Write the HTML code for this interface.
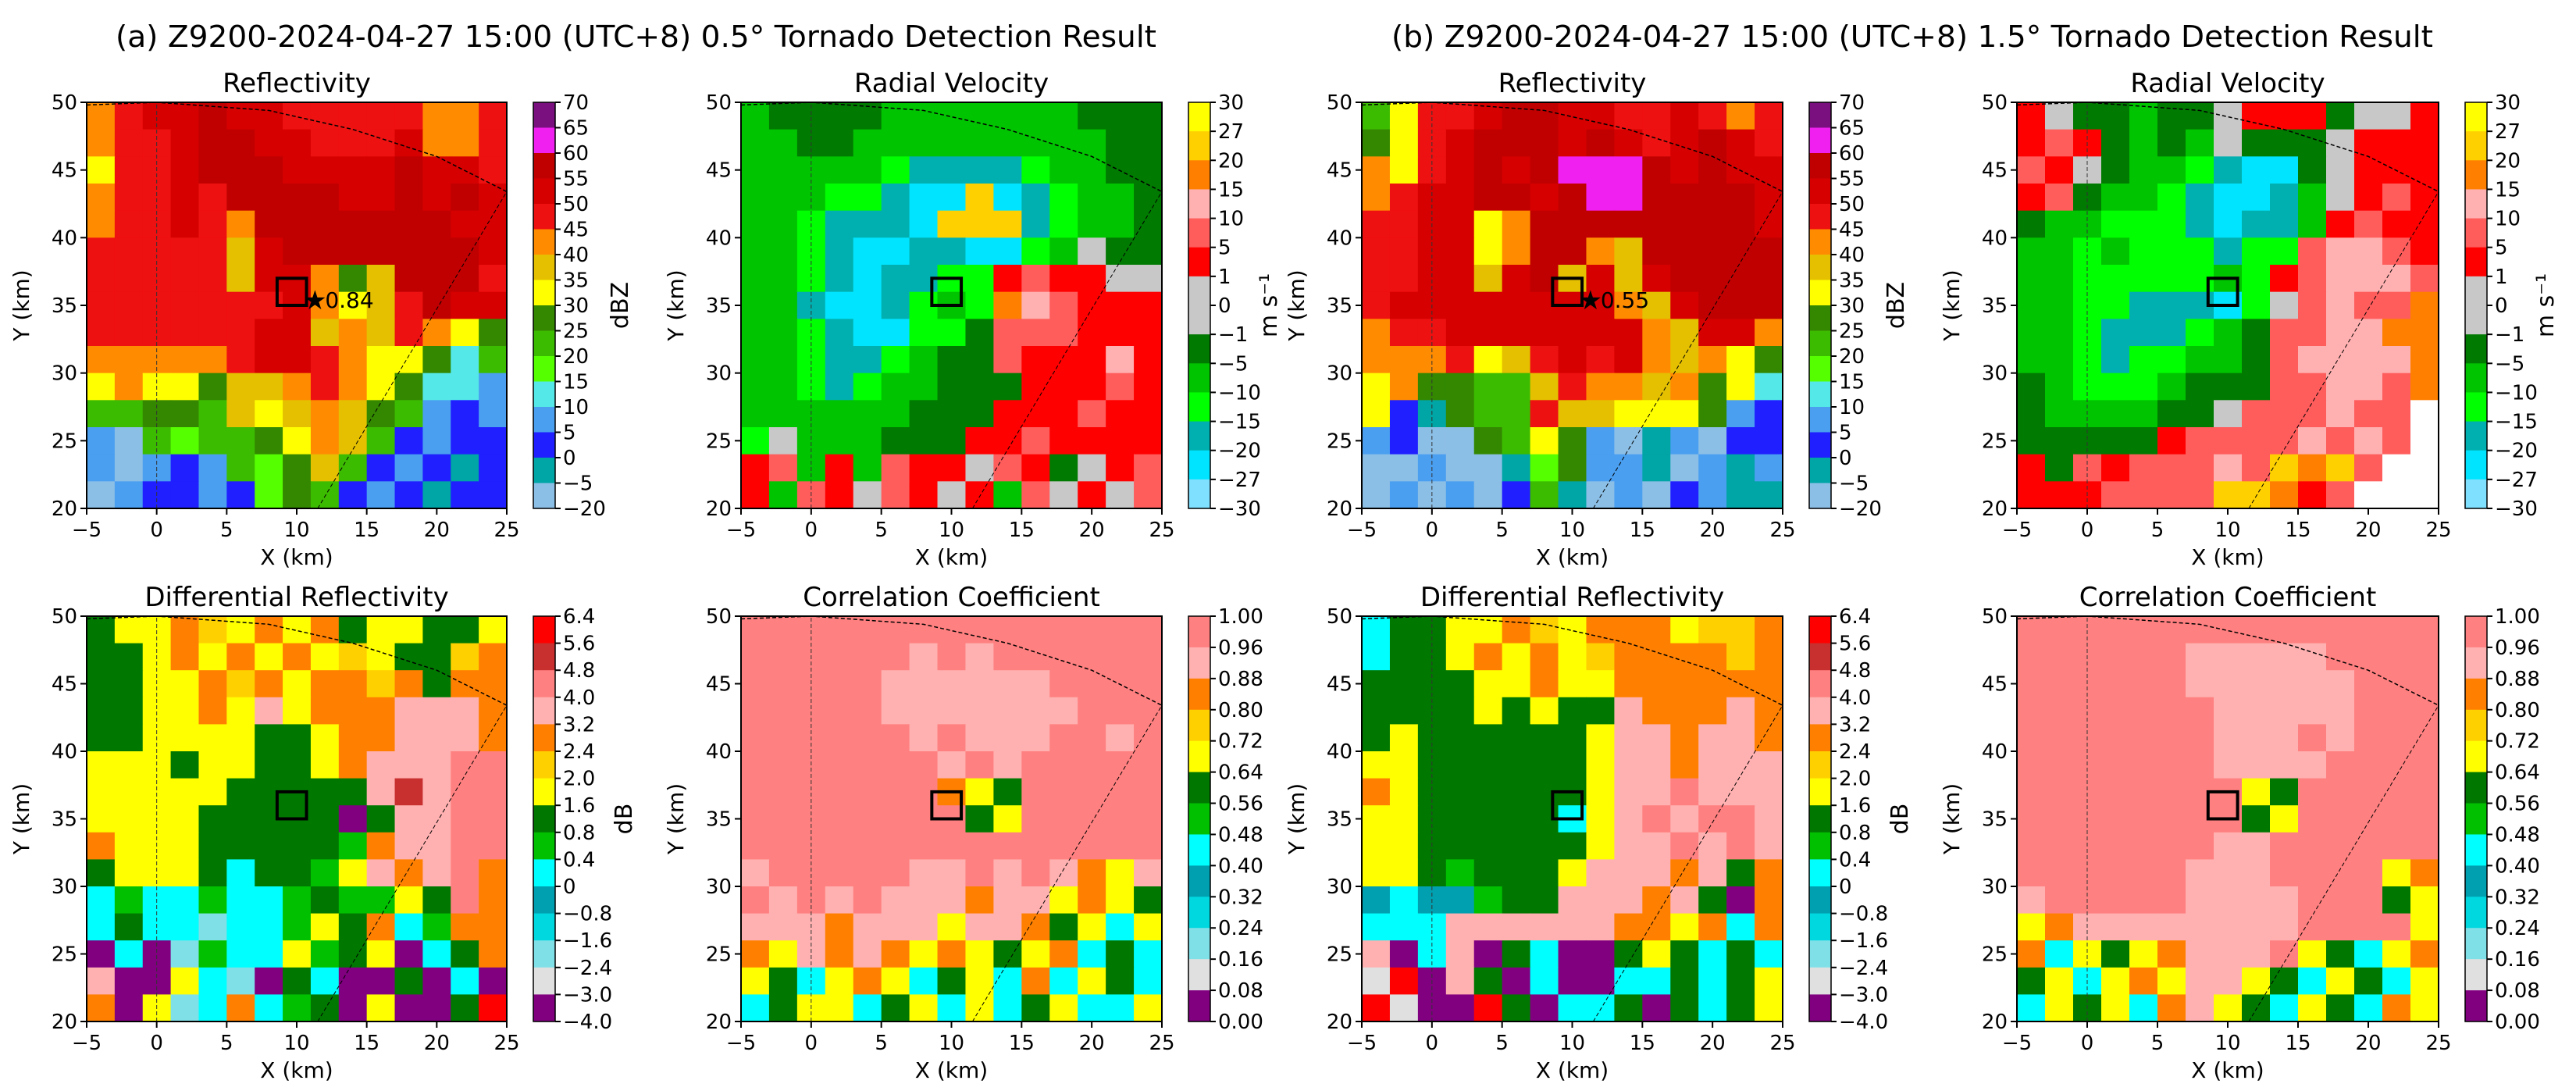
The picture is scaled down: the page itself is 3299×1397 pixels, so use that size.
<!DOCTYPE html>
<html><head><meta charset="utf-8">
<style>
html,body{margin:0;padding:0;background:#fff;}
svg{display:block;font-family:"DejaVu Sans","Liberation Sans",sans-serif;}
</style></head>
<body>
<svg id="fig" width="3299" height="1397" viewBox="0 0 3299 1397" xmlns="http://www.w3.org/2000/svg">
<rect width="3299" height="1397" fill="#fff"/>
<text x="148" y="60" font-size="38" textLength="1333" lengthAdjust="spacingAndGlyphs">(a) Z9200-2024-04-27 15:00 (UTC+8) 0.5° Tornado Detection Result</text>
<text x="1782" y="60" font-size="38" textLength="1334" lengthAdjust="spacingAndGlyphs">(b) Z9200-2024-04-27 15:00 (UTC+8) 1.5° Tornado Detection Result</text>
</svg>
<script>
// ---- axis domain ----
const xTicks = [-5,0,5,10,15,20,25];
const yTicks = [20,25,30,35,40,45,50];
// ---- colorbar tick labels ----
const zLevels = ["70","65","60","55","50","45","40","35","30","25","20","15","10","5","0","−5","−20"];
const vLevels = ["30","27","20","15","10","5","1","0","−1","−5","−10","−15","−20","−27","−30"];
const zdrLevels = ["6.4","5.6","4.8","4.0","3.2","2.4","2.0","1.6","0.8","0.4","0","−0.8","−1.6","−2.4","−3.0","−4.0"];
const ccLevels = ["1.00","0.96","0.88","0.80","0.72","0.64","0.56","0.48","0.40","0.32","0.24","0.16","0.08","0.00"];
// ---- detection values ----
const detectScores = ["0.84","0.55"];
const detectBox = [8.6,10.7,35,37];
const detectStar = [11.3,35.4];

// ---- gridded fields (rows from y=50 down to 20, columns x=-5..25, 2 km cells) ----
const zA = ["klmmnmmlllllkkl","kllmnnmmlllmkkl","illmnnnmmmmnmml","kllmlnnnnmmnmnm","kllmlknnnnnnnmm","llllljmnnnnnnnm","llllljmmkhjnnnl","lllllllmkijlnmm","llllllmmjkjlkih","kkkkklmmlkiiheg","ikiihjjklkiheed","gghhgjijkjhgdcd","dagfgghikjgcdcc","dadcdgfhjgcdcbc","adccdcfhgcdcbcc"];
const vA = ["EFFFFEEEEEEEFFF","EEFFEEEEEEEEEFF","EEEEEDCCCCDEEFF","EEEDDCBBLBCDEEF","EEDCCCBLLLCDEEF","EEDCBBCCBBDEGFF","EEDCBCCDDHIHHGG","EECBBCDEDKJIHHH","EEDCBBDDFIIIHHH","EEDCCDEFFIHHHJH","EEDCDEEFFFHHHIH","EEEEEEFFFHHHIHH","DGEEEFFFHHIHHHH","HIEHEIHHGIHFGHI","HEIHGIHGHEIGHGI"];
const zdrA = ["vyyozyoyovyyvvy","vvyoyoyoyzyvvzo","vvyyozoyoozovoo","vvyyoykyoookkko","vvyyyyvvyookkko","yyyvyyvvyokkkmm","yyyyyvvvvvkbkmm","yyyyvvvvvpvkkmm","oyyyvvvvvuokkmm","vyyyvtvvuykokmo","tuttuttuvuuyvmo","tvttqttuyvotuoo","ptpquttyuvyptvo","kppytqpvtppvptp","opyqtotuvpyppvR"];
const ccA = ["mmmmmmmmmmmmmmm","mmmmmmkmkmmmmmm","mmmmmkkkkkkmmmm","mmmmmkkkkkkkmmm","mmmmmmkmkkkmmkm","mmmmmmmkmkmmmmm","mmmmmmmoyvmmmmm","mmmmmmmmvymmmmm","mmmmmmmmmmmmmmm","kmmmmmkkmkmkoyk","mkmkmkkkokkyoyv","kkkokkkykkovyty","oykokoyoyvyotvt","yvtyoytvytotyvt","tvyytvytytvytty"];
const zB = ["gillmnnmmllmlkl","hilmnnnmnmlmnml","kilmnmnooonmnmm","klmmnnmnoonnnnm","llmmiknnnnnnnnm","llmmiknnkjnnnnn","llmmjmnjmjmnnnn","lmmmmmmmmkjmnnn","kllmmmmmmmkjmmk","kkklijlmlmkjkih","ikhhggjlkkjkhie","icbhggljjiiihdc","dcaahgihdabdacc","aadaabfhddbadbd","adadacgbadacdbb"];
const vB = ["HGFFEFFGHHHFGGH","HIHFEFEGFFFGHHH","IHGFEEDCBBFGHHH","HIFEEDCBBCEGHIH","FEEDDDCBCCEHIHH","EEDEDDDCDDIJJIH","EEDDDDDEDHIJJJI","EEDDCCCBDGIJIIK","EEDCCCDEFIIJJKK","EEDCDDEEFIJJJJK","FEDDDEFFFIIJJIK","FEEEEFFGIIIJIIW","FFFFFHIIIIJIJIW","HFIHIIIJILKLIWW","HHHIIIILLKHIWWW"];
const zdrB = ["tvvyyozyoooyzzo","tvvyoyoyzoooozo","vvvvyyoyyoooooo","vvvvyvyvvkoooko","vyvvvvvvykkokko","yyvvvvvvykkokkk","oyvvvvvvykkmkkk","yyvvvvvtykmkmmk","yyvvvvvvykkmkmk","yyvuvvvykkkokvo","stssuvvkkkokvpo","tttkkkkkkooyoto","kptkpvtppvyvtvt","wRpkvptppttvtvy","RwppRvpttvpvtvy"];
const ccB = ["mmmmmmmmmmmmmmm","mmmmmmkkkkkmmmm","mmmmmmkkkkkkmmm","mmmmmmmkkkkkmmm","mmmmmmmkkkmkmmm","mmmmmmmkkkkmmmm","mmmmmmmmyvmmmmm","mmmmmmmmvymmmmm","mmmmmmmkkmmmmmm","mmmmmmkkkmmmmyo","kmmmmmkkkkmmmvy","yokkkkkkkkmmmmy","otyvyokkkmyvtyo","vytyoykkyvtyvty","tyvytokyvtyvtoy"];

// ---- palettes (styles) ----
const zPal = {a:"#8cbfe6",b:"#00a5a5",c:"#1f1fff",d:"#4a9ff0",e:"#55e8e8",f:"#55ff00",g:"#3cbc00",h:"#338800",i:"#ffff00",j:"#e4c000",k:"#ff8c00",l:"#ee1111",m:"#d60000",n:"#c00000",o:"#f020f0",p:"#7a1080"};
const zCb = ["p","o","n","m","l","k","j","i","h","g","f","e","d","c","b","a"];
const vPal = {A:"#80e0ff",B:"#00e4ff",C:"#00b0b0",D:"#00ff00",E:"#00c400",F:"#007a00",G:"#c8c8c8",H:"#ff0000",I:"#ff5c5c",J:"#ffb0b0",K:"#ff8000",L:"#ffd000",M:"#ffff00",W:"#ffffff"};
const vCb = ["M","L","K","J","I","H","G","G","F","E","D","C","B","A"];
const dPal = {p:"#800080",w:"#e0e0e0",q:"#80e0e8",r:"#00d8e0",s:"#00a0b0",t:"#00ffff",u:"#00c000",v:"#007800",y:"#ffff00",z:"#ffd000",o:"#ff8000",k:"#ffb0b0",m:"#ff8080",b:"#c83030",R:"#ff0000"};
const zdrCb = ["R","b","m","k","o","z","y","v","u","t","s","r","q","w","p"];
const ccCb = ["m","k","o","z","y","v","u","t","s","r","q","w","p"];

const SVGNS="http://www.w3.org/2000/svg";
const fig=document.getElementById('fig');
function mk(tag,attrs,parent){const e=document.createElementNS(SVGNS,tag);for(const k in attrs)e.setAttribute(k,attrs[k]);(parent||fig).appendChild(e);return e;}

const panels=[
 {x0:111,x1:649,y0:131,y1:651,title:"Reflectivity",grid:zA,pal:zPal,cb:zCb,lv:zLevels,unit:"dBZ",uoff:93,score:0,name:"a-reflectivity"},
 {x0:949,x1:1488,y0:131,y1:651,title:"Radial Velocity",grid:vA,pal:vPal,cb:vCb,lv:vLevels,unit:"m s⁻¹",uoff:85,name:"a-velocity"},
 {x0:111,x1:649,y0:789,y1:1308,title:"Differential Reflectivity",grid:zdrA,pal:dPal,cb:zdrCb,lv:zdrLevels,unit:"dB",uoff:98,name:"a-zdr"},
 {x0:949,x1:1488,y0:789,y1:1308,title:"Correlation Coefficient",grid:ccA,pal:dPal,cb:ccCb,lv:ccLevels,unit:"",uoff:0,name:"a-cc"},
 {x0:1744,x1:2283,y0:131,y1:651,title:"Reflectivity",grid:zB,pal:zPal,cb:zCb,lv:zLevels,unit:"dBZ",uoff:93,score:1,name:"b-reflectivity"},
 {x0:2583,x1:3123,y0:131,y1:651,title:"Radial Velocity",grid:vB,pal:vPal,cb:vCb,lv:vLevels,unit:"m s⁻¹",uoff:85,name:"b-velocity"},
 {x0:1744,x1:2283,y0:789,y1:1308,title:"Differential Reflectivity",grid:zdrB,pal:dPal,cb:zdrCb,lv:zdrLevels,unit:"dB",uoff:98,name:"b-zdr"},
 {x0:2583,x1:3123,y0:789,y1:1308,title:"Correlation Coefficient",grid:ccB,pal:dPal,cb:ccCb,lv:ccLevels,unit:"",uoff:0,name:"b-cc"}
];

panels.forEach(P=>{
 const g=mk('g',{});
 
 
 const xs=v=>P.x0+(v+5)/30*(P.x1-P.x0);
 const ys=v=>P.y1-(v-20)/30*(P.y1-P.y0);
 const rows=P.grid.length;
 P.grid.forEach((row,r)=>{
  const cols=row.length;
  for(let c=0;c<cols;c++){
   const xa=-5+c*30/cols, xb=-5+(c+1)*30/cols;
   const yt=50-r*30/rows, yb=50-(r+1)*30/rows;
   const rc=mk('rect',{x:xs(xa),y:ys(yt),width:xs(xb)-xs(xa)+0.6,height:ys(yb)-ys(yt)+0.6,fill:P.pal[row[c]]},g);
   
   
  }
 });
 const ring=[[-5,49.8],[0,50],[8,49.4],[14,48],[20,46],[25,43.4]].map(p=>xs(p[0])+','+ys(p[1])).join(' ');
 const rl=mk('polyline',{points:ring,fill:'none',stroke:'#000','stroke-width':1.5,'stroke-dasharray':'5,3'},g);
 
 
 const vl=mk('line',{x1:xs(0),y1:ys(20),x2:xs(0),y2:ys(50),stroke:'#333','stroke-width':1,'stroke-dasharray':'5,3'},g);
 
 
 const rd=mk('line',{x1:xs(11.5),y1:ys(20),x2:xs(25),y2:ys(43.4),stroke:'#000','stroke-width':1,'stroke-dasharray':'5,3'},g);
 
 
 const bx=mk('rect',{x:xs(detectBox[0]),y:ys(detectBox[3]),width:xs(detectBox[1])-xs(detectBox[0]),height:ys(detectBox[2])-ys(detectBox[3]),fill:'none',stroke:'#000','stroke-width':4},g);
 
 
 if(P.score!==undefined){
  const st=mk('text',{x:xs(detectStar[0]),y:ys(detectStar[1])+12,'font-size':34,'text-anchor':'middle'},g);
  st.textContent='★';
  
  
  const sc=mk('text',{x:xs(detectStar[0])+13,y:ys(detectStar[1])+10,'font-size':28},g);
  sc.textContent=detectScores[P.score];
  
  
 }
 const fr=mk('rect',{x:P.x0,y:P.y0,width:P.x1-P.x0,height:P.y1-P.y0,fill:'none',stroke:'#000','stroke-width':2},g);
 
 
 xTicks.forEach(t=>{
  const l=mk('line',{x1:xs(t),x2:xs(t),y1:P.y1,y2:P.y1+8,stroke:'#000','stroke-width':2},g);
  
  
  const tx=mk('text',{x:xs(t),y:P.y1+36,'font-size':26,'text-anchor':'middle'},g);
  tx.textContent=t<0?'−'+(-t):String(t);
  
  
 });
 yTicks.forEach(t=>{
  const l=mk('line',{x1:P.x0-8,x2:P.x0,y1:ys(t),y2:ys(t),stroke:'#000','stroke-width':2},g);
  
  
  const tx=mk('text',{x:P.x0-12,y:ys(t)+9,'font-size':26,'text-anchor':'end'},g);
  tx.textContent=String(t);
  
  
 });
 const xl=mk('text',{x:(P.x0+P.x1)/2,y:P.y1+72,'font-size':28,'text-anchor':'middle'},g);
 xl.textContent='X (km)';
 
 
 const ylx=P.x0-74, yly=(P.y0+P.y1)/2;
 const yl=mk('text',{x:ylx,y:yly,'font-size':28,'text-anchor':'middle',transform:`rotate(-90 ${ylx} ${yly})`},g);
 yl.textContent='Y (km)';
 
 
 const tt=mk('text',{x:(P.x0+P.x1)/2,y:P.y0-13,'font-size':34,'text-anchor':'middle'},g);
 tt.textContent=P.title;
 
 
 const cx0=P.x1+34, cw=28, n=P.cb.length, h=(P.y1-P.y0)/n;
 P.cb.forEach((k,i)=>{
  const r=mk('rect',{x:cx0,y:P.y0+i*h,width:cw,height:h+0.6,fill:P.pal[k]},g);
  
  
 });
 const cf=mk('rect',{x:cx0,y:P.y0,width:cw,height:P.y1-P.y0,fill:'none',stroke:'#000','stroke-width':1.5},g);
 
 
 P.lv.forEach((lab,i)=>{
  const yy=P.y0+i*h;
  const l=mk('line',{x1:cx0+cw,x2:cx0+cw+7,y1:yy,y2:yy,stroke:'#000','stroke-width':2},g);
  
  
  const tx=mk('text',{x:cx0+cw+10,y:yy+9,'font-size':26},g);
  tx.textContent=lab;
  
  
 });
 if(P.unit){
  const ux=cx0+cw+P.uoff, uy=(P.y0+P.y1)/2;
  const u=mk('text',{x:ux,y:uy,'font-size':30,'text-anchor':'middle',transform:`rotate(-90 ${ux} ${uy})`},g);
  u.textContent=P.unit;
  
  
 }
});
</script>
</body></html>
